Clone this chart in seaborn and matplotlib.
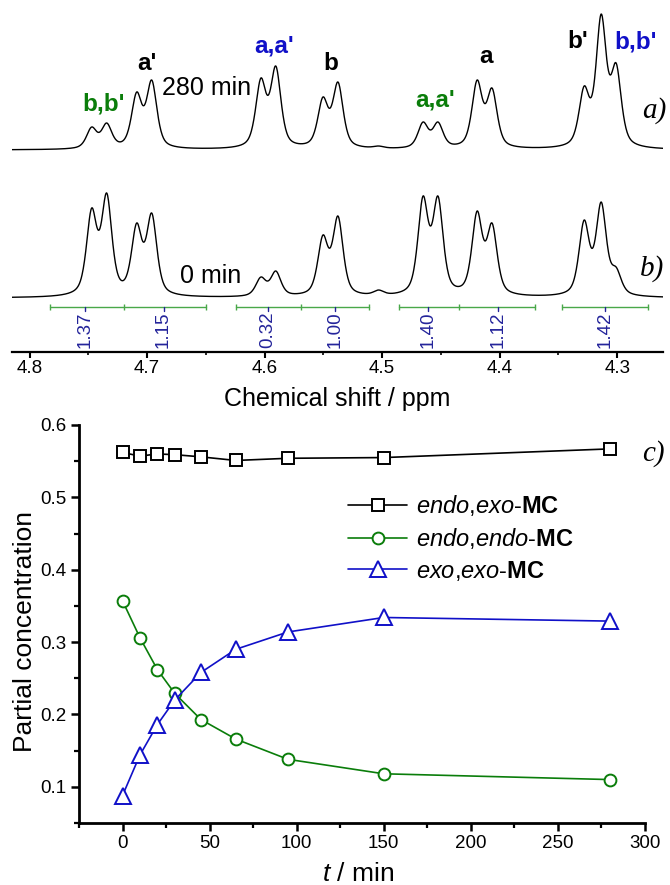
import numpy as np
import pandas as pd
import matplotlib
matplotlib.use("Agg")
import matplotlib.pyplot as plt
from matplotlib.ticker import MultipleLocator
import seaborn as sns

# ---------------- panel c: kinetics data ----------------
time_min = [0, 10, 20, 30, 45, 65, 95, 150, 280]
endo_exo = [0.562, 0.557, 0.560, 0.559, 0.556, 0.551, 0.554, 0.555, 0.567]
endo_endo = [0.357, 0.306, 0.262, 0.229, 0.193, 0.166, 0.138, 0.118, 0.110]
exo_exo = [0.088, 0.144, 0.186, 0.220, 0.258, 0.290, 0.314, 0.334, 0.329]
series_names = [r"$\mathit{endo}$,$\mathit{exo}$-$\mathbf{MC}$",
                r"$\mathit{endo}$,$\mathit{endo}$-$\mathbf{MC}$",
                r"$\mathit{exo}$,$\mathit{exo}$-$\mathbf{MC}$"]

# ---------------- panels a/b: NMR peak lists ----------------
peak_ppm = [4.7472, 4.7344, 4.7089, 4.6961, 4.6032, 4.5905, 4.5504, 4.5376,
            4.5030, 4.4652, 4.4525, 4.4192, 4.4065, 4.3281, 4.3136, 4.3009]
height_280min = [23, 27, 58, 70, 72, 84, 53, 68, 4, 28, 28, 70, 62, 64, 136, 87]
height_0min = [90, 105, 75, 85, 21, 27, 63, 82, 8, 102, 102, 87, 75, 78, 96, 31]

# integration regions (ppm) and integral values
integ_regions = [[4.783, 4.720, 4.650], [4.6245, 4.5692, 4.5112],
                 [4.4857, 4.4346, 4.3698], [4.3468, 4.2736]]
integ_label_ppm = [4.753, 4.686, 4.597, 4.540, 4.461, 4.401, 4.310]
integ_values = ["1.37", "1.15", "0.32", "1.00", "1.40", "1.12", "1.42"]

peak_labels = ["b,b'", "a'", "a,a'", "b", "a,a'", "a", "b'", "b,b'"]

# ---------------- style ----------------
sns.set_style("ticks")
plt.rcParams["font.family"] = ["Liberation Sans", "DejaVu Sans"]
plt.rcParams["mathtext.fontset"] = "custom"
plt.rcParams["mathtext.rm"] = "Liberation Sans"
plt.rcParams["mathtext.it"] = "Liberation Sans:italic"
plt.rcParams["mathtext.bf"] = "Liberation Sans:bold"
for k in ["text.color", "axes.labelcolor", "xtick.color", "ytick.color", "axes.edgecolor"]:
    plt.rcParams[k] = "black"

GREEN = "#0a7d0a"
BLUE = "#1010c8"
NAVY = "#23239a"
IGREEN = "#49a849"

W, H = 670, 885
fig = plt.figure(figsize=(W / 100, H / 100), dpi=100)

def fig_rect(l, t, r, b):
    return [l / W, 1 - b / H, (r - l) / W, (b - t) / H]

# ================= top panel: spectra =================
axs = fig.add_axes(fig_rect(12, 0, 663, 352))
X0, X1 = 4.815, 4.261
grid = np.linspace(X0, X1, 1600)
fwhm = 0.0104
eta = 0.55

def pv(x, c):
    d = (x - c) / (fwhm / 2)
    lor = 1.0 / (1.0 + d ** 2)
    gau = np.exp(-np.log(2) * d ** 2)
    return eta * lor + (1 - eta) * gau

pk = np.array(peak_ppm)
M = pv(pk[:, None], pk[None, :])
G = pv(grid[:, None], pk[None, :])
spectra = []
for hts, base, name in [(height_280min, 202, "280 min"), (height_0min, 54, "0 min")]:
    amps = np.clip(np.linalg.solve(M, np.array(hts, float)), 0, None)
    spectra.append(pd.DataFrame({"ppm": grid, "I": base + G @ amps, "spec": name}))
spec_df = pd.concat(spectra, ignore_index=True)
for name in ["280 min", "0 min"]:
    sns.lineplot(data=spec_df[spec_df["spec"] == name], x="ppm", y="I", ax=axs,
                 color="black", lw=1.0, sort=False, estimator=None, legend=False)

axs.set_xlim(X0, X1)
axs.set_ylim(0, 352)
for s in ["top", "left", "right"]:
    axs.spines[s].set_visible(False)
axs.spines["bottom"].set_linewidth(1.6)
axs.set_yticks([])
axs.xaxis.set_minor_locator(MultipleLocator(0.05))
axs.tick_params(axis="x", which="major", direction="out", length=4, width=1.5,
                labelsize=13.5, pad=2)
axs.tick_params(axis="x", which="minor", direction="out", length=2.5, width=1.2)
xt = [4.8, 4.7, 4.6, 4.5, 4.4, 4.3]
axs.set_xticks(xt)
axs.set_xticklabels([f"{v:.1f}" for v in xt])
axs.set_xlabel("Chemical shift / ppm", fontsize=18)
axs.xaxis.set_label_coords(0.499, -0.100)
axs.xaxis.label.set_va("top")
axs.set_ylabel("")

# integration bars
for seg in integ_regions:
    axs.plot(seg, [45] * len(seg), color=IGREEN, lw=1.0, marker="|", ms=4, mew=1.0)
for xp, val in zip(integ_label_ppm, integ_values):
    axs.plot([xp, xp], [45, 41], color=NAVY, lw=1.0)
    axs.text(xp, 22, val, rotation=90, ha="center", va="center",
             fontsize=13.5, color=NAVY)

# peak annotations
lab_pos = [(4.737, 242), (4.700, 282), (4.592, 299), (4.544, 282),
           (4.455, 245), (4.412, 289), (4.334, 304), (4.284, 304)]
lab_col = [GREEN, "black", BLUE, "black", GREEN, "black", "black", BLUE]
for (xp, yp), txt, c in zip(lab_pos, peak_labels, lab_col):
    axs.text(xp, yp, txt, ha="center", va="baseline", fontsize=17.5,
             fontweight="bold", color=c)
axs.text(4.6876, 257, "280 min", ha="left", va="baseline", fontsize=18)
axs.text(4.6722, 69, "0 min", ha="left", va="baseline", fontsize=18)
axs.text(4.2787, 234, "a)", ha="left", va="baseline", fontsize=21,
         family="Liberation Serif", style="italic")
axs.text(4.2804, 76, "b)", ha="left", va="baseline", fontsize=21,
         family="Liberation Serif", style="italic")

# ================= bottom panel: kinetics =================
axk = fig.add_axes(fig_rect(79, 425, 645, 823))
kin = pd.DataFrame({"t": time_min * 3,
                    "c": endo_exo + endo_endo + exo_exo,
                    "series": sum([[n] * len(time_min) for n in series_names], [])})
styles = [("black", "s", 8.5), (GREEN, "o", 8.5), (BLUE, "^", 11)]
for name, (col, mk, ms) in zip(series_names, styles):
    sns.lineplot(data=kin[kin["series"] == name], x="t", y="c", ax=axk,
                 color=col, lw=1.2, marker=mk, markersize=ms,
                 markerfacecolor="white", markeredgecolor=col, markeredgewidth=1.4,
                 label=name, sort=False, estimator=None)

axk.set_xlim(-25, 300)
axk.set_ylim(0.05, 0.6)
for s in ["top", "right"]:
    axk.spines[s].set_visible(False)
for s in ["left", "bottom"]:
    axk.spines[s].set_linewidth(2.0)
axk.xaxis.set_minor_locator(MultipleLocator(25))
axk.yaxis.set_minor_locator(MultipleLocator(0.05))
axk.set_xticks([0, 50, 100, 150, 200, 250, 300])
axk.set_yticks([0.1, 0.2, 0.3, 0.4, 0.5, 0.6])
axk.set_yticklabels(["0.1", "0.2", "0.3", "0.4", "0.5", "0.6"])
axk.tick_params(which="major", direction="out", length=6, width=1.8, labelsize=13.5, pad=3)
axk.tick_params(which="minor", direction="out", length=3.5, width=1.6)
axk.set_ylabel("Partial concentration", fontsize=19)
axk.yaxis.set_label_coords(-0.075, 0.482)
axk.set_xlabel(r"$\mathit{t}$ / min", fontsize=19)
axk.xaxis.set_label_coords(0.493, -0.098)
axk.xaxis.label.set_va("top")

leg = axk.legend(loc="upper left", bbox_to_anchor=(348 / W, 1 - 493 / H),
                 bbox_transform=fig.transFigure, frameon=False, borderpad=0,
                 borderaxespad=0, handlelength=2.5, handletextpad=0.4,
                 labelspacing=0.33, fontsize=17)

fig.text(642 / W, 1 - 461 / H, "c)", ha="left", va="baseline", fontsize=21,
         family="Liberation Serif", style="italic")

fig.savefig("out.png", dpi=100)
